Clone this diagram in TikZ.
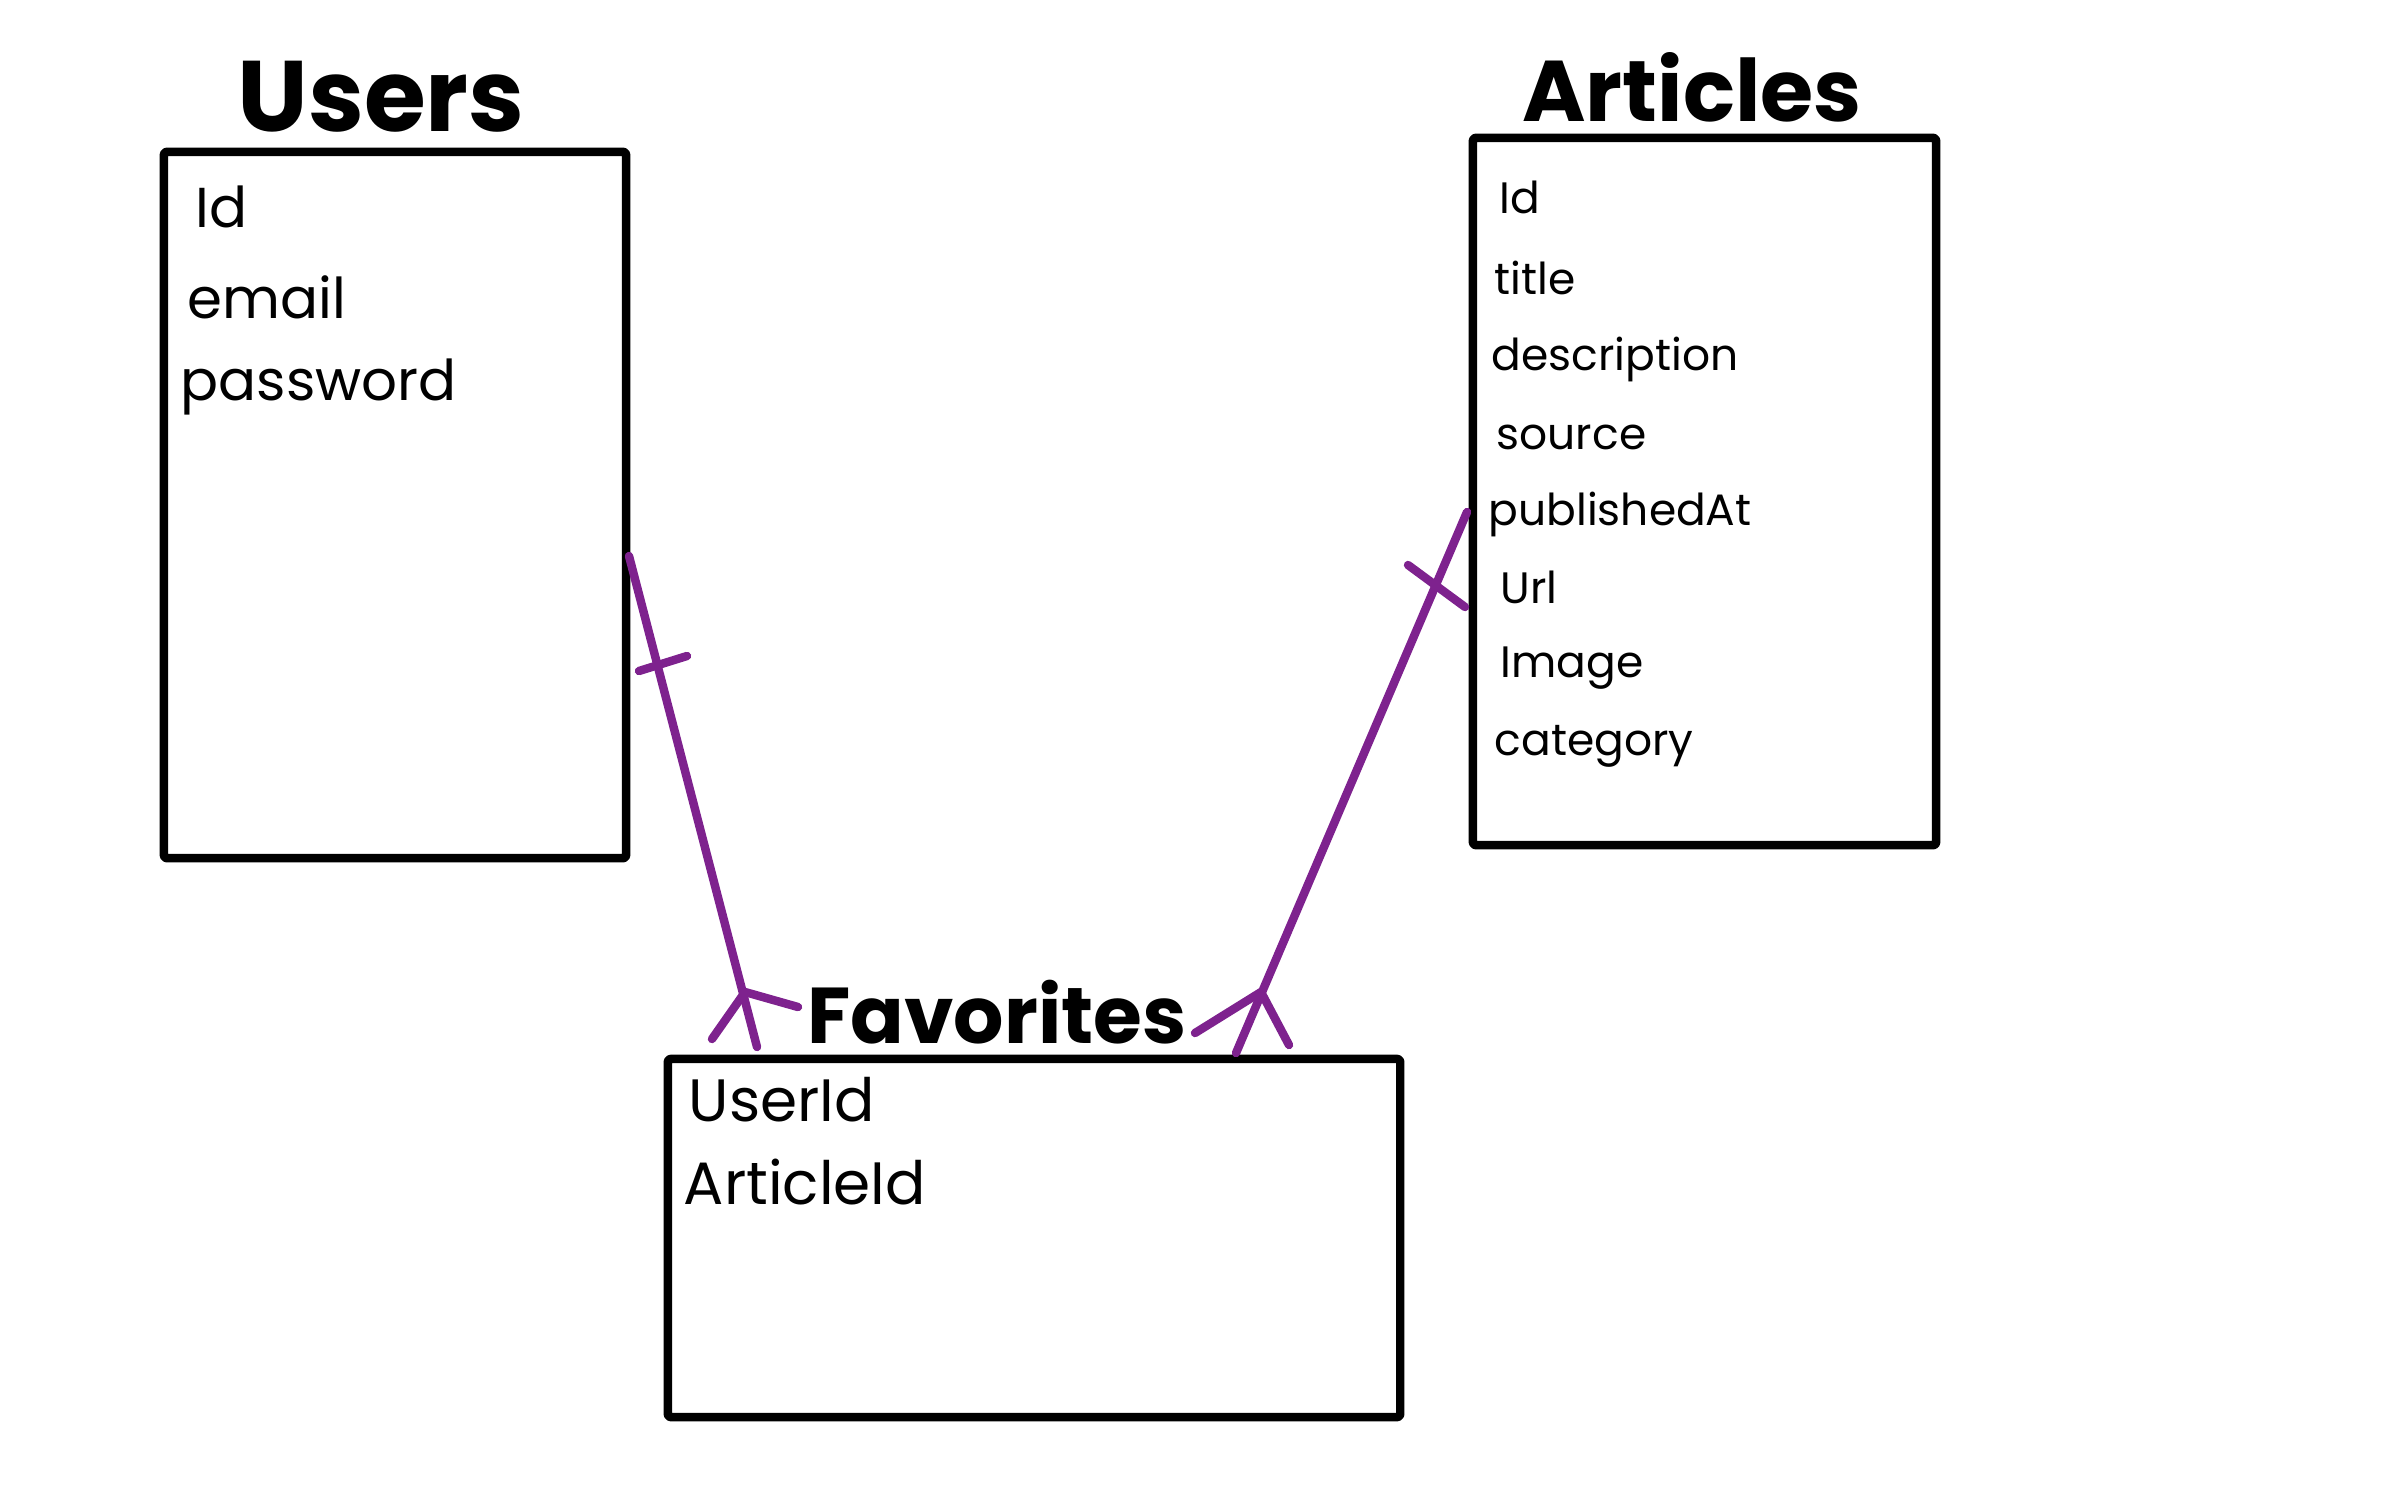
\documentclass[tikz,border=0pt]{standalone}
\usepackage{fontspec}
\setmainfont{Poppins}
\newfontfamily\titlefont{Poppins}[UprightFont=* Bold]
\definecolor{relpurple}{RGB}{126,34,142}
\tikzset{
  tablebox/.style={draw=black, line width=2.4pt, inner sep=0pt, line join=round, rounded corners=0.8pt},
  tabletitle/.style={anchor=base, inner sep=0pt, text=black},
  fieldtext/.style={anchor=base west, inner sep=0pt, text=black},
  rel/.style={draw=relpurple, line width=2.4pt, line cap=round, line join=round}
}
\begin{document}
\begin{tikzpicture}[x=0.01cm, y=-0.01cm]
\useasboundingbox (0,0) rectangle (2386,1491);

% tables
\node[tablebox, minimum width=4.62cm, minimum height=7.06cm] (users) at (395,505) {};
\node[tablebox, minimum width=4.63cm, minimum height=7.07cm] (articles) at (1704.5,491.5) {};
\node[tablebox, minimum width=7.32cm, minimum height=3.58cm] (favorites) at (1034,1238) {};

% titles
\node[tabletitle, font=\titlefont\fontsize{28.5}{28.5}\selectfont] (usersTitle) at (381,132) {Users};
\node[tabletitle, font=\titlefont\fontsize{24.5}{24.5}\selectfont] (articlesTitle) at (1692,122) {Articles};
\node[tabletitle, font=\titlefont\fontsize{22.5}{22.5}\selectfont] (favoritesTitle) at (997,1043) {Favorites};

% Users fields
\begin{scope}[font=\fontsize{16}{16}\selectfont]
\node[fieldtext] (uId) at (195,227) {Id};
\node[fieldtext] (uEmail) at (187,318) {email};
\node[fieldtext] (uPassword) at (180,400) {password};
\end{scope}

% Articles fields
\begin{scope}[font=\fontsize{12.5}{12.5}\selectfont]
\node[fieldtext] (aId) at (1499,213) {Id};
\node[fieldtext] (aTitle) at (1494,294) {title};
\node[fieldtext] (aDescription) at (1491,370) {description};
\node[fieldtext] (aSource) at (1496,449) {source};
\node[fieldtext] (aPublishedAt) at (1488,525) {publishedAt};
\node[fieldtext] (aUrl) at (1500,603) {Url};
\node[fieldtext] (aImage) at (1500,677) {Image};
\node[fieldtext] (aCategory) at (1494,755) {category};
\end{scope}

% Favorites fields
\begin{scope}[font=\fontsize{17}{17}\selectfont]
\node[fieldtext] (fUserId) at (688,1121) {UserId};
\node[fieldtext] (fArticleId) at (683,1204) {ArticleId};
\end{scope}

% Users -- Favorites (one to many)
\coordinate (ufStart) at (629,556);
\coordinate (ufBarA) at (639,671);
\coordinate (ufBarB) at (687,656);
\coordinate (ufFoot) at (745,992);
\coordinate (ufEnd) at (757,1047);
\coordinate (ufLeft) at (712,1039);
\coordinate (ufRight) at (798,1007);
\draw[rel] (ufStart) -- (ufEnd);
\draw[rel] (ufBarA) -- (ufBarB);
\draw[rel] (ufLeft) -- (ufFoot) -- (ufRight);

% Articles -- Favorites (one to many)
\coordinate (afStart) at (1467,512);
\coordinate (afBarA) at (1408,565);
\coordinate (afBarB) at (1465,607);
\coordinate (afFoot) at (1261,992);
\coordinate (afEnd) at (1236,1053);
\coordinate (afLeft) at (1195,1033);
\coordinate (afRight) at (1289,1045);
\draw[rel] (afStart) -- (afEnd);
\draw[rel] (afBarA) -- (afBarB);
\draw[rel] (afLeft) -- (afFoot) -- (afRight);
\end{tikzpicture}
\end{document}
